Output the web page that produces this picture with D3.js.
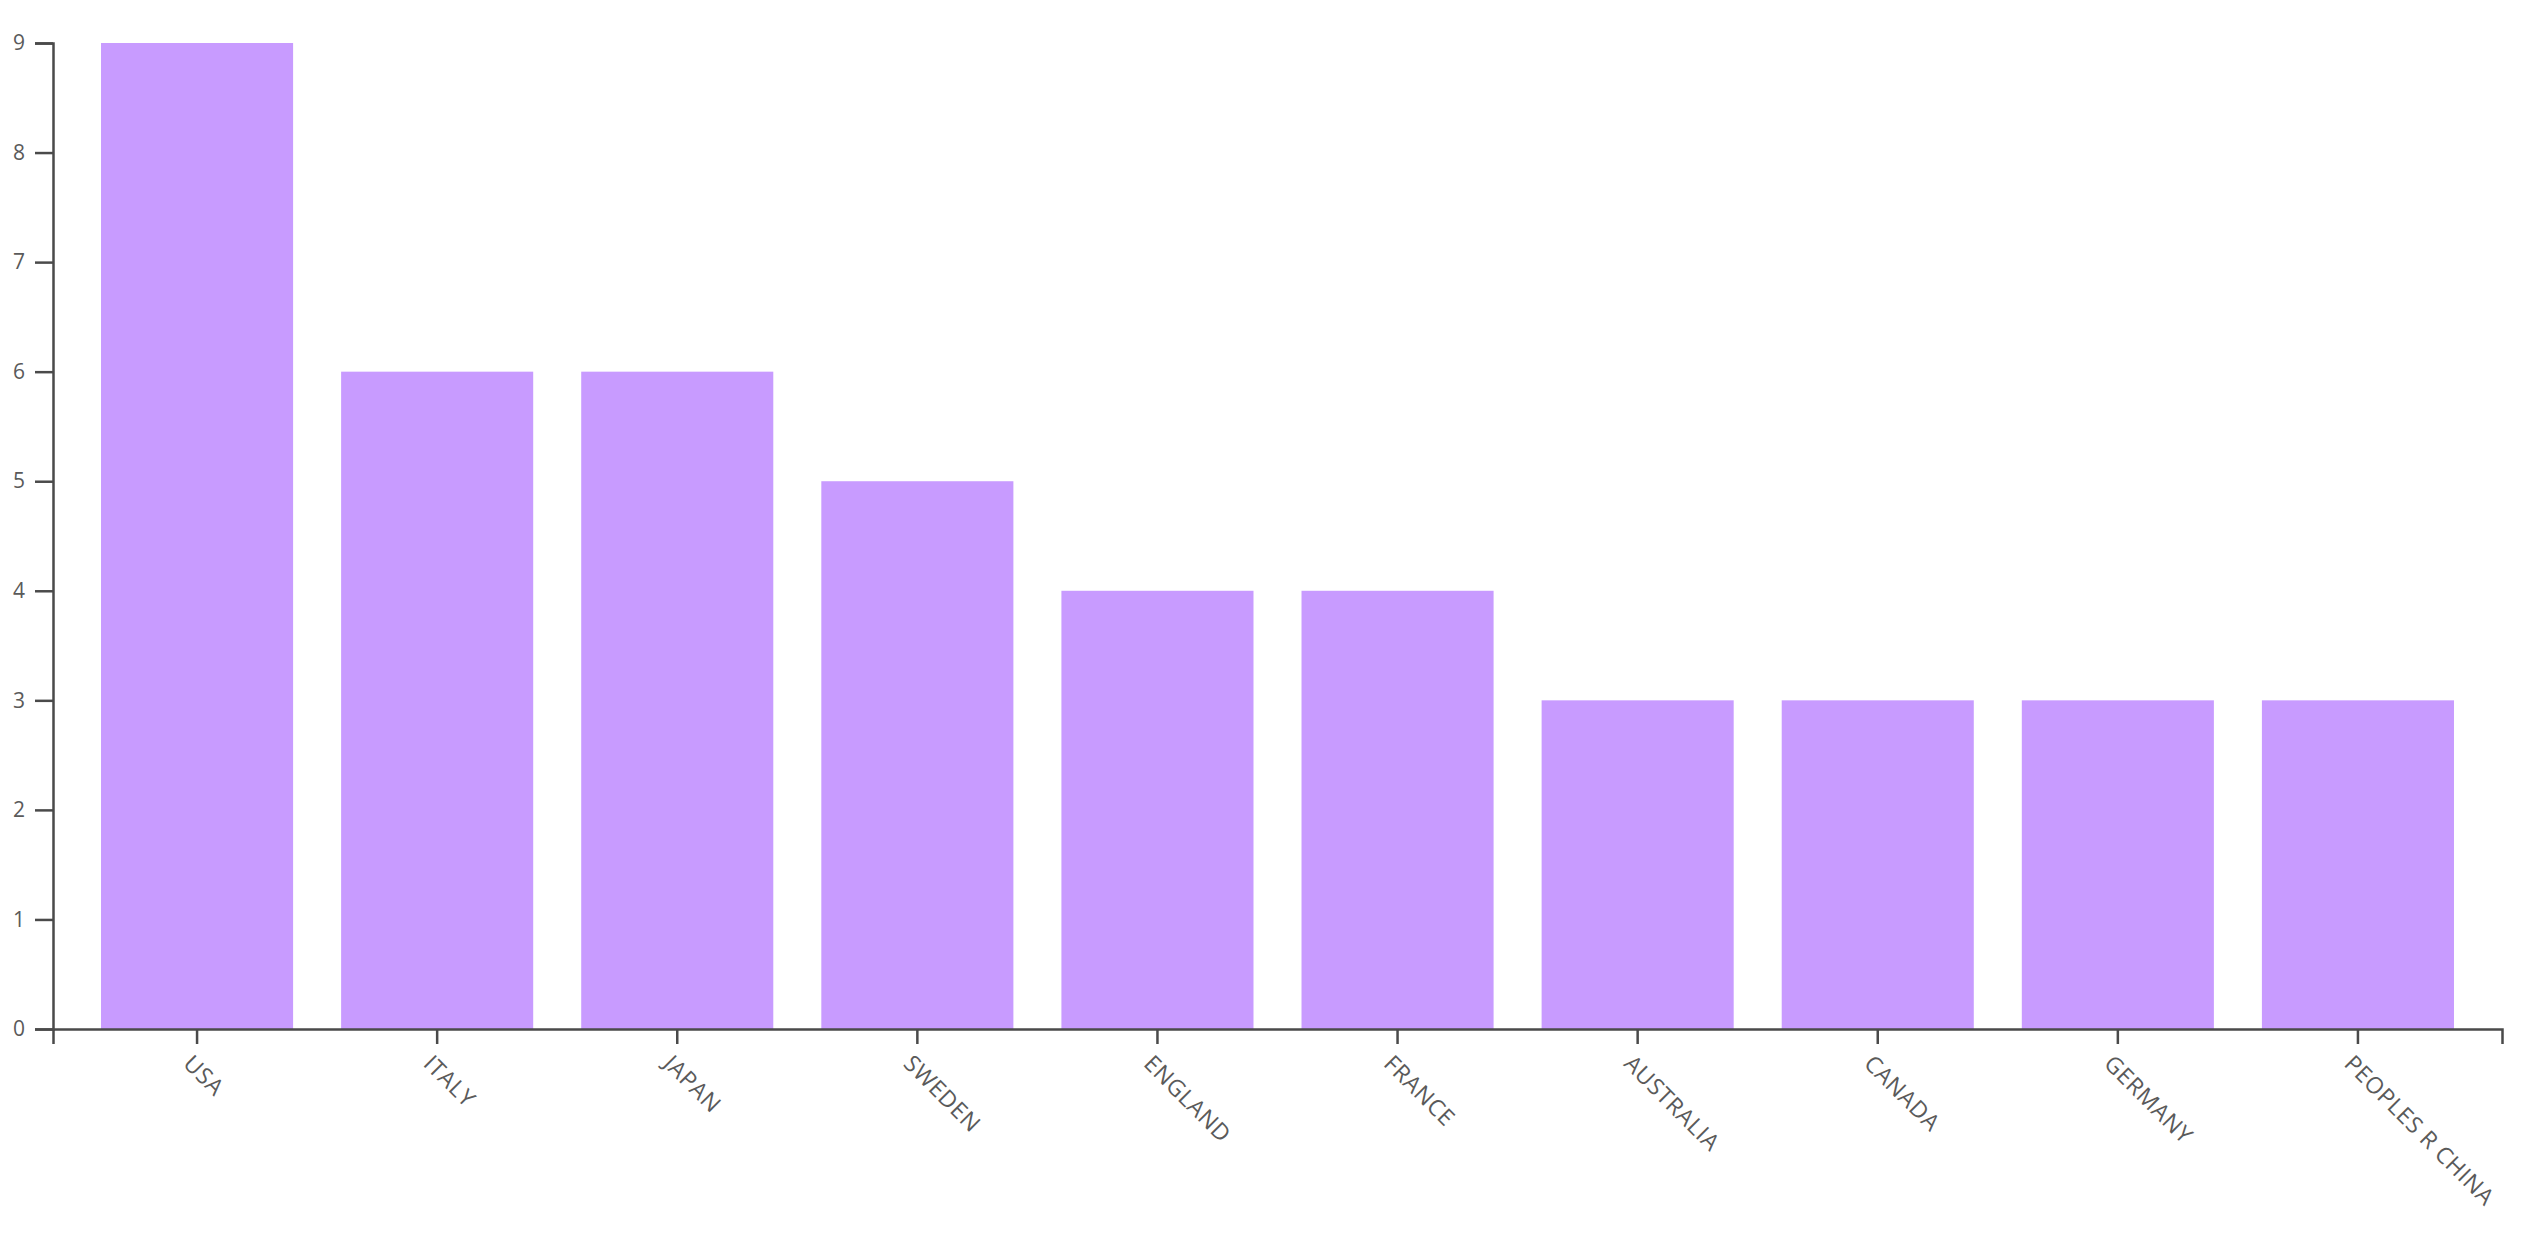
<!DOCTYPE html>
<html>
<head>
<meta charset="utf-8">
<script src="https://cdn.jsdelivr.net/npm/d3@7"></script>
<style>
  body { margin: 0; background: #fff; }
  .axis text { font-family: "Open Sans", sans-serif; font-size: 21px; fill: #5a5a5a; }
  .axis path, .axis line { stroke: #4a4a4a; stroke-width: 2.5px; }
  .x-axis text { font-size: 23px; letter-spacing: 0.6px; }
</style>
</head>
<body>
<div id="container"></div>
<script>
// countries and number of records
var countries = ["USA", "ITALY", "JAPAN", "SWEDEN", "ENGLAND", "FRANCE", "AUSTRALIA", "CANADA", "GERMANY", "PEOPLES R CHINA"];
var counts = [9, 6, 6, 5, 4, 4, 3, 3, 3, 3];
var yTicks = [0, 1, 2, 3, 4, 5, 6, 7, 8, 9];

var data = countries.map(function(c, i) { return {name: c, value: counts[i]}; });

var margin = {top: 43, right: 28, bottom: 208, left: 53},
    width = 2530 - margin.left - margin.right,
    height = 1237 - margin.top - margin.bottom;

var svg = d3.select("#container")
  .append("svg")
    .attr("width", 2530)
    .attr("height", 1237)
  .append("g")
    .attr("transform", "translate(" + margin.left + "," + margin.top + ")");

var x = d3.scaleBand()
    .domain(countries)
    .range([0, width])
    .padding(0.2);

var y = d3.scaleLinear()
    .domain([0, 9])
    .range([height, 0]);

// bars
svg.selectAll("rect")
  .data(data)
  .enter()
  .append("rect")
    .attr("x", function(d) { return x(d.name); })
    .attr("y", function(d) { return y(d.value); })
    .attr("width", x.bandwidth())
    .attr("height", function(d) { return height - y(d.value); })
    .attr("fill", "#c89bff");

// x axis with rotated labels
svg.append("g")
    .attr("class", "axis x-axis")
    .attr("transform", "translate(0," + height + ")")
    .call(d3.axisBottom(x).tickSizeInner(15).tickSizeOuter(15))
  .selectAll("text")
    .attr("x", 0)
    .attr("y", 0)
    .attr("dy", 0)
    .attr("transform", "translate(-15,36) rotate(45)")
    .style("text-anchor", "start");

// y axis
svg.append("g")
    .attr("class", "axis")
    .call(d3.axisLeft(y).tickValues(yTicks).tickSizeInner(18).tickSizeOuter(18).tickPadding(10));
</script>
</body>
</html>
